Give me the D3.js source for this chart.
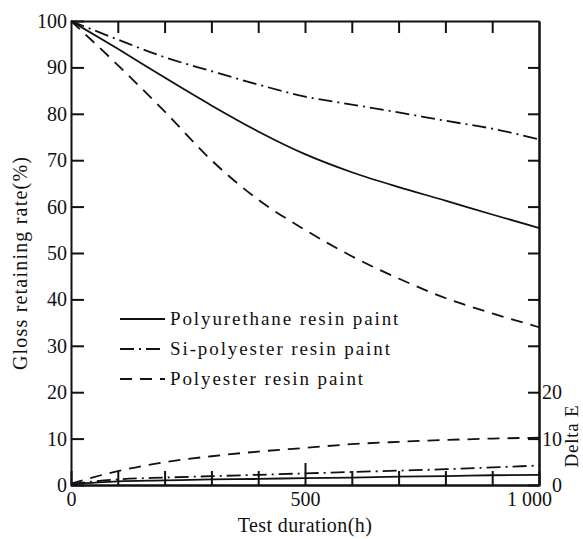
<!DOCTYPE html>
<html>
  <head>
    <meta charset="utf-8">
    <script src="https://d3js.org/d3.v7.min.js"></script>
    <style>
      body { margin: 0; background: #ffffff; }
      text { font-family: "Liberation Serif", "Times New Roman", serif; fill: #111; }
    </style>
  </head>
  <body>
    <script>
      // Test duration in hours, shared by every series
      var hours = [0, 100, 200, 300, 400, 500, 600, 700, 800, 900, 1000];

      // Gloss retaining rate (%)
      var glossPU = [100, 94, 87.8, 81.8, 76.2, 71.3, 67.4, 64.2, 61.3, 58.3, 55.4];
      var glossSi = [100, 96, 92.2, 89.2, 86.3, 83.7, 82, 80.3, 78.5, 76.8, 74.5];
      var glossPE = [100, 90.5, 80.5, 70, 61.5, 55, 49.3, 44.5, 40.3, 37, 34];

      // Delta E (right axis)
      var deltaPU = [0.2, 0.8, 1.0, 1.2, 1.3, 1.5, 1.6, 1.8, 1.9, 2.1, 2.2];
      var deltaSi = [0.2, 1.2, 1.6, 1.9, 2.2, 2.5, 2.8, 3.1, 3.4, 3.8, 4.2];
      var deltaPE = [0.3, 3.0, 4.9, 6.2, 7.2, 8.0, 8.8, 9.3, 9.7, 10.0, 10.2];

      // Names and tick labels
      var seriesNames = ["Polyurethane resin paint", "Si-polyester resin paint", "Polyester resin paint"];
      var glossTicks = [0, 10, 20, 30, 40, 50, 60, 70, 80, 90, 100];
      var hourTicks = [0, 500, 1000];
      var hourMinor = [100, 200, 300, 400, 500, 600, 700, 800, 900];
      var deltaTicks = [0, 10, 20];

      // Dash style per series
      var dashes = ["none", "14,5,2,5", "12,8"];

      var width = 583;
      var height = 539;
      var margin = {top: 21, right: 44, bottom: 54, left: 71};

      var svg = d3.select("body").append("svg")
        .attr("width", width).attr("height", height);

      var x = d3.scaleLinear().domain([0, 1000]).range([margin.left, width - margin.right]);
      var y = d3.scaleLinear().domain([0, 100]).range([height - margin.bottom, margin.top]);
      // Delta E shares the same vertical spacing as the gloss scale
      var yRight = d3.scaleLinear().domain([0, 100]).range([height - margin.bottom, margin.top]);

      // Left axis, ticks pointing inward
      var leftAxis = svg.append("g")
        .attr("transform", "translate(" + x(0) + ",0)")
        .call(d3.axisLeft(y).tickValues(glossTicks).tickSize(-13).tickPadding(4).tickSizeOuter(0));
      leftAxis.selectAll("text").style("font-size", "20px");

      // Bottom axis: labels at 0, 500, 1000
      var bottomAxis = svg.append("g")
        .attr("transform", "translate(0," + y(0) + ")")
        .call(d3.axisBottom(x).tickValues(hourTicks)
          .tickFormat(function(d) { return d === 1000 ? "1 000" : d; })
          .tickSize(0).tickPadding(7).tickSizeOuter(0));
      bottomAxis.selectAll("text").style("font-size", "20px")
        .attr("dx", function(d) { return d === 1000 ? -10 : 0; });

      // Bottom minor ticks, pointing up (500 a bit taller)
      svg.append("g").attr("transform", "translate(0," + y(0) + ")")
        .call(d3.axisBottom(x).tickValues(hourMinor)
          .tickFormat("").tickSizeOuter(0).tickSize(-14))
        .selectAll(".tick line")
        .attr("y2", function(d) { return d === 500 ? -22 : -14; });

      // Top frame with downward ticks
      svg.append("g").attr("transform", "translate(0," + y(100) + ")")
        .call(d3.axisTop(x).tickValues(hourMinor).tickFormat("").tickSize(-12).tickSizeOuter(0));

      // Right frame: gloss ticks without labels
      svg.append("g").attr("transform", "translate(" + x(1000) + ",0)")
        .call(d3.axisRight(y).tickValues([30, 40, 50, 60, 70, 80, 90])
          .tickFormat("").tickSize(-11).tickSizeOuter(0));

      // Right Delta E axis
      var rightAxis = svg.append("g").attr("transform", "translate(" + x(1000) + ",0)")
        .call(d3.axisRight(yRight).tickValues(deltaTicks).tickSize(-11).tickPadding(3).tickSizeOuter(0));
      rightAxis.selectAll("text").style("font-size", "20px")
        .attr("dx", function(d) { return d === 0 ? 10 : 0; });

      // Thicker axis lines
      svg.selectAll(".domain").attr("stroke", "#111").attr("stroke-width", 2);
      svg.selectAll(".tick line").attr("stroke", "#111").attr("stroke-width", 2);

      // Line generators
      var glossLine = d3.line()
        .x(function(d, i) { return x(hours[i]); })
        .y(function(d) { return y(d); })
        .curve(d3.curveMonotoneX);
      var deltaLine = d3.line()
        .x(function(d, i) { return x(hours[i]); })
        .y(function(d) { return yRight(d); })
        .curve(d3.curveMonotoneX);

      var glossData = [glossPU, glossSi, glossPE];
      var deltaData = [deltaPU, deltaSi, deltaPE];

      glossData.forEach(function(series, k) {
        svg.append("path").datum(series)
          .attr("d", glossLine)
          .attr("fill", "none").attr("stroke", "#111")
          .attr("stroke-width", 1.8)
          .attr("stroke-dasharray", dashes[k]);
      });
      deltaData.forEach(function(series, k) {
        svg.append("path").datum(series)
          .attr("d", deltaLine)
          .attr("fill", "none").attr("stroke", "#111")
          .attr("stroke-width", 1.8)
          .attr("stroke-dasharray", dashes[k]);
      });

      // Legend
      var legend = svg.append("g");
      seriesNames.forEach(function(name, k) {
        var base = 325 + k * 30;
        legend.append("line")
          .attr("x1", 120).attr("x2", 165)
          .attr("y1", base - 6).attr("y2", base - 6)
          .attr("stroke", "#111").attr("stroke-width", 1.8)
          .attr("stroke-dasharray", dashes[k]);
        legend.append("text")
          .attr("x", 170).attr("y", base)
          .style("font-size", "19px").style("letter-spacing", "1.9px")
          .text(name);
      });

      // Axis titles
      svg.append("text")
        .attr("transform", "translate(27,263) rotate(-90)")
        .attr("text-anchor", "middle")
        .style("font-size", "20px").style("letter-spacing", "1.2px")
        .text("Gloss retaining rate(%)");
      svg.append("text")
        .attr("x", x(500)).attr("y", 532)
        .attr("text-anchor", "middle")
        .style("font-size", "20px").style("letter-spacing", "0.4px")
        .text("Test duration(h)");
      svg.append("text")
        .attr("transform", "translate(578,436) rotate(-90)")
        .attr("text-anchor", "middle")
        .style("font-size", "19px").style("letter-spacing", "0.75px")
        .text("Delta E");
    </script>
  </body>
</html>
